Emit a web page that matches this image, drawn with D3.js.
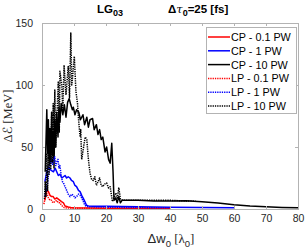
<!DOCTYPE html>
<html><head><meta charset="utf-8">
<script src="https://cdn.jsdelivr.net/npm/d3@7"></script>
<style>body{margin:0;background:#fff}svg{display:block}</style>
</head><body><svg id="c" width="305" height="251"></svg>
<script>
// ---- data ----
const seriesNames = ["CP - 0.1 PW","CP - 1 PW","CP - 10 PW","LP - 0.1 PW","LP - 1 PW","LP - 10 PW"];
const xTicks = [0,10,20,30,40,50,60,70,80];
const yTicks = [0,50,100,150];

const cp01X = [0.9,1.2,1.5,2,2.5,3,3.5,4,4.6,5.1,5.6,6.1,6.7,7.2,7.7,8.2,9,10,15,20,30,40];
const cp01Y = [7,12,15,14,11,10,10,8,9,8,7,6,5,2.4,2,1.6,1.2,1,0.8,0.7,0.6,0.5];

const cp1X = [0.9,1.5,2,2.5,3,3.6,4.1,4.6,5.1,5.6,6.2,6.7,7.2,7.7,8.2,8.75,9.2,9.8,10.3,10.8,11.4,11.9,12.4,12.9,13.4,13.9,14.5,16,20,25,30,40,50,60];
const cp1Y = [22,30,34,32,31,30,33,30,27,28,25,26,27,25,26,25,23,22,19,18,15,14,11,8.6,6,3,2.5,2.3,2.2,2,1.8,1.5,1.2,1];

const cp10X = [1,1.25,1.5,1.75,2,2.25,2.5,2.75,3,3.25,3.5,3.75,4,4.3,4.6,5,5.3,5.6,6,6.5,7,7.5,8,8.5,9,9.5,9.8,10.3,10.8,11.5,12,12.8,13.3,14,14.5,15,15.8,16.3,17,17.5,18,18.5,19,19.7,20.2,20.8,21.3,21.8,22.2,22.5,23,23.5,24,24.5,25,26,28,30,35,40,45,50,55,60,65,70,75,80];
const cp10Y = [30,55,80,45,72,35,65,38,75,45,62,33,72,50,78,58,82,70,85,76,84,74,86,89,84,80,82,76,80,78,72,76,68,74,66,72,73,64,68,60,64,56,58,46,50,40,37,53,30,7,9,5,10,5,7,7,7,7,6.5,6.5,6.7,5.8,4.8,3.5,2.5,1.8,1.3,1];

const lp01X = [0.6,0.9,1.25,1.6,2,2.5,3,3.4,4,4.6,5.1,5.6,6.1,6.5,7,8,10,20,30,40];
const lp01Y = [4,8,15,12,9,7,7,5,6,7,5,5,3,2,1,0.8,0.6,0.5,0.5,0.5];

const lp1X = [0.9,1.2,1.5,2,2.5,3,3.3,3.6,4,4.3,4.6,5,5.3,5.6,6,6.4,6.7,7.2,7.7,8.2,8.75,9.3,9.8,10.3,10.8,11.4,11.9,12.4,12.9,13.4,14,15,20,25,30,35,40];
const lp1Y = [10,20,14,28,35,41,36,40,42,35,38,40,33,35,27,22,21,18,15,12,10,12,11,9,10,12,11,9,6,3,2,1.8,1.5,1.3,1.2,1,1];

const lp10X = [0.75,1,1.25,1.5,1.75,2,2.25,2.5,2.75,3,3.25,3.5,3.75,4,4.25,4.6,5.1,5.4,5.6,6.2,6.5,6.9,7.5,8.2,8.6,9,9.3,9.6,10.1,10.6,11.1,11.4,11.9,12.1,12.4,13,13.5,14,14.5,15,15.5,16,16.5,17,17.5,18,18.5,19,19.5,20.2,20.8,21.3,22,22.5,23.1,23.5,24,24.5,25.4,30,35,40,45,48];
const lp10Y = [8,22,10,45,15,55,28,62,32,78,38,85,45,96,50,70,103,62,111,99,80,116,92,115,90,142,100,108,123,95,85,73,58,64,40,50,58,56,40,29,24,23,26,19,22,25,19,18,20,21,17,18,6,9,13,8,17,8,7,7,7,7,6.5,6.3];

const seriesX = [cp01X,cp1X,cp10X,lp01X,lp1X,lp10X];
const seriesY = [cp01Y,cp1Y,cp10Y,lp01Y,lp1Y,lp10Y];
const colors = ["#ff0000","#0000ff","#000000","#ff0000","#0000ff","#000000"];
const dashed = [false,false,false,true,true,true];

// ---- layout ----
const L=42,R=298,T=23,B=209;
const svg=d3.select("#c");
const x=d3.scaleLinear().domain([0,80]).range([L,R]);
const y=d3.scaleLinear().domain([0,150]).range([B,T]);
const axisCol="#262626", boxCol="#b3b3b3";
const font="Liberation Sans, Arial, sans-serif";

svg.append("rect").attr("x",L).attr("y",T).attr("width",R-L).attr("height",B-T).attr("fill","#fff");

// series
const line=d3.line().x(d=>x(d[0])).y(d=>y(d[1]));
const g=svg.append("g");
seriesNames.forEach((n,i)=>{
  const pts=seriesX[i].map((v,j)=>[v,seriesY[i][j]]);
  g.append("path").attr("d",line(pts)).attr("fill","none")
   .attr("stroke",colors[i]).attr("stroke-width",1.5)
   .attr("stroke-linejoin","round")
   .attr("stroke-dasharray",dashed[i]?"1.3,1":null);
});

// axes
const xb=svg.append("g").attr("transform",`translate(0,${B})`)
  .call(d3.axisBottom(x).tickValues(xTicks).tickSize(-3).tickPadding(6).tickFormat(d3.format("d")));
const xt=svg.append("g").attr("transform",`translate(0,${T})`)
  .call(d3.axisTop(x).tickValues(xTicks).tickSize(-3).tickFormat(""));
const yl=svg.append("g").attr("transform",`translate(${L},0)`)
  .call(d3.axisLeft(y).tickValues(yTicks).tickSize(-3).tickPadding(9).tickFormat(d3.format("d")));
const yr=svg.append("g").attr("transform",`translate(${R},0)`)
  .call(d3.axisRight(y).tickValues(yTicks).tickSize(-3).tickFormat(""));
[xb,xt,yl,yr].forEach(a=>{
  a.selectAll("path").attr("stroke",boxCol).attr("stroke-width",1);
  a.selectAll("line").attr("stroke",boxCol);
  a.selectAll("text").attr("fill",axisCol).attr("font-family",font).attr("font-size",10.5);
});

// title
const tt=svg.append("text").attr("y",13).attr("font-family",font).attr("font-weight","bold").attr("font-size",11.5).attr("fill","#000");
tt.append("tspan").attr("x",97).text("LG");
tt.append("tspan").attr("dy",3).attr("font-size",9).text("03");
const t2=svg.append("text").attr("y",13).attr("font-family",font).attr("font-weight","bold").attr("font-size",11.5).attr("fill","#000");
t2.append("tspan").attr("x",168).text("Δ");
t2.append("tspan").attr("font-family","DejaVu Serif, serif").attr("font-style","italic").attr("font-weight","normal").text("τ");
t2.append("tspan").attr("dy",3).attr("font-size",9).text("0");
t2.append("tspan").attr("dy",-3).text("=25 [fs]");

// x label
const xlab=svg.append("text").attr("x",171).attr("y",243).attr("text-anchor","middle").attr("font-family",font).attr("font-size",13).attr("fill",axisCol);
xlab.append("tspan").text("Δw");
xlab.append("tspan").attr("dy",3.5).attr("font-size",9.5).text("0");
xlab.append("tspan").attr("dy",-3.5).attr("font-family","Liberation Serif, serif").text(" [λ");
xlab.append("tspan").attr("dy",3.5).attr("font-size",9.5).text("0");
xlab.append("tspan").attr("dy",-3.5).attr("font-family","Liberation Serif, serif").text("]");

// y label
const ylab=svg.append("text").attr("transform",`translate(12,${(T+B)/2}) rotate(-90)`).attr("text-anchor","middle")
  .attr("font-family","Liberation Serif, serif").attr("font-size",12.5).attr("fill",axisCol);
ylab.append("tspan").text("Δ");
ylab.append("tspan").attr("font-family","DejaVu Sans, sans-serif").attr("font-style","italic").text("ℰ");
ylab.append("tspan").text(" [MeV]");

// legend
const lg=svg.append("g");
lg.append("rect").attr("x",206.5).attr("y",27.5).attr("width",90).attr("height",86).attr("fill","#fff").attr("stroke",boxCol);
seriesNames.forEach((n,i)=>{
  const yy=37+i*13.8;
  lg.append("line").attr("x1",208).attr("x2",230).attr("y1",yy).attr("y2",yy)
    .attr("stroke",colors[i]).attr("stroke-width",1.5).attr("stroke-dasharray",dashed[i]?"1.3,1":null);
  lg.append("text").attr("x",231).attr("y",yy+4).attr("font-family",font).attr("font-size",10.8).attr("fill","#000").text(n);
});
</script></body></html>
